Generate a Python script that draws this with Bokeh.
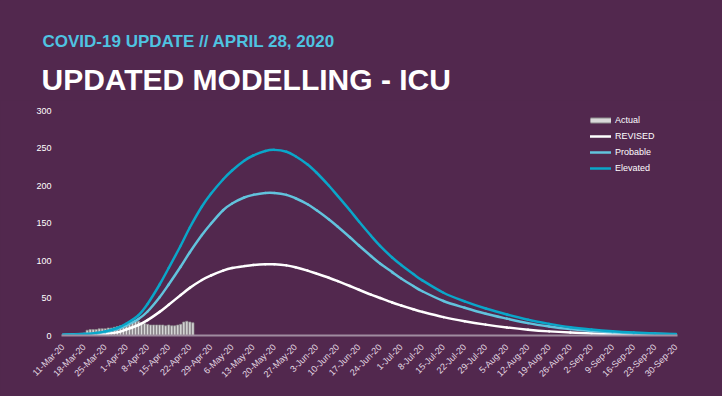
import math
import pandas as pd
from bokeh.plotting import figure
from bokeh.layouts import column
from bokeh.models import Range1d, FixedTicker, Label, Legend, LegendItem
from bokeh.embed import file_html
from bokeh.resources import INLINE

BG = "#52284E"
FONT = "Liberation Sans"
START = pd.Timestamp("2020-03-11")

title_top = "COVID-19 UPDATE // APRIL 28, 2020"
title_main = "UPDATED MODELLING - ICU"

tick_labels = ["11-Mar-20", "18-Mar-20", "25-Mar-20", "1-Apr-20", "8-Apr-20", "15-Apr-20",
               "22-Apr-20", "29-Apr-20", "6-May-20", "13-May-20", "20-May-20", "27-May-20",
               "3-Jun-20", "10-Jun-20", "17-Jun-20", "24-Jun-20", "1-Jul-20", "8-Jul-20",
               "15-Jul-20", "22-Jul-20", "29-Jul-20", "5-Aug-20", "12-Aug-20", "19-Aug-20",
               "26-Aug-20", "2-Sep-20", "9-Sep-20", "16-Sep-20", "23-Sep-20", "30-Sep-20"]
y_ticks = [0, 50, 100, 150, 200, 250, 300]

curve_dates = ["2020-03-11", "2020-03-18", "2020-03-22", "2020-03-25", "2020-03-29", "2020-04-01",
               "2020-04-05", "2020-04-08", "2020-04-12", "2020-04-15", "2020-04-19", "2020-04-22",
               "2020-04-26", "2020-04-29", "2020-05-03", "2020-05-06", "2020-05-10", "2020-05-13",
               "2020-05-17", "2020-05-20", "2020-05-24", "2020-05-27", "2020-05-31", "2020-06-03",
               "2020-06-07", "2020-06-10", "2020-06-14", "2020-06-17", "2020-06-21", "2020-06-24",
               "2020-06-28", "2020-07-01", "2020-07-05", "2020-07-08", "2020-07-15", "2020-07-22",
               "2020-07-29", "2020-08-05", "2020-08-12", "2020-08-19", "2020-08-26", "2020-09-02",
               "2020-09-09", "2020-09-16", "2020-09-23", "2020-09-30"]
revised = [0.5, 1, 1.5, 2.2, 4.2, 8, 14, 20.5, 31.5, 41, 54, 63.5, 74, 80, 86.5, 90, 92.5, 94,
           95, 95, 93.5, 91, 86.5, 82.5, 77, 72.5, 66, 61, 54.5, 50, 44, 40, 35, 31.5, 24.5, 19,
           14.5, 10.8, 7.8, 5.5, 3.9, 2.8, 2.0, 1.4, 1.0, 0.8]
probable = [1, 2, 3, 4.5, 8.5, 13.5, 22, 32, 51, 68, 92, 111, 134, 149, 167, 176, 184, 187.5,
            190, 190, 187.5, 183, 175, 167, 155, 145, 131, 120, 106, 96, 84.5, 76, 66, 59, 46, 37,
            29, 22.5, 16.5, 12, 8.5, 6, 4.3, 3.1, 2.2, 1.5]
elevated = [1, 2, 3.5, 5.5, 10, 16, 27, 42, 68, 90, 120, 144, 172, 189, 208, 220, 233, 240,
            246, 247.5, 245, 239, 228, 217, 200, 186, 167, 152, 133, 119.5, 104, 94, 82, 73.5, 57,
            45.5, 36, 28, 21, 15.5, 11, 8, 5.7, 4, 2.8, 1.9]

actual_first_date = "2020-03-19"
actual = [7, 8, 8, 8, 9, 9, 9, 10, 10, 11, 12, 13, 14, 16, 17, 18, 20, 19, 17, 16,
          15, 14, 14, 14, 14, 14, 13, 14, 13, 13, 14, 15, 18, 19, 18, 17]


def day_index(dates):
    return [int((pd.Timestamp(d) - START).days) for d in dates]


def smooth_segments(xs, ys):
    """Catmull-Rom style smoothing (like a spreadsheet 'smoothed line') as Bezier segments."""
    n = len(xs)
    out = {k: [] for k in ("x0", "y0", "x1", "y1", "cx0", "cy0", "cx1", "cy1")}
    for i in range(n - 1):
        xm, ym = (xs[i - 1], ys[i - 1]) if i > 0 else (xs[i], ys[i])
        xp, yp = (xs[i + 2], ys[i + 2]) if i + 2 < n else (xs[i + 1], ys[i + 1])
        out["x0"].append(xs[i]); out["y0"].append(ys[i])
        out["x1"].append(xs[i + 1]); out["y1"].append(ys[i + 1])
        out["cx0"].append(xs[i] + (xs[i + 1] - xm) / 6.0)
        out["cy0"].append(ys[i] + (ys[i + 1] - ym) / 6.0)
        out["cx1"].append(xs[i + 1] - (xp - xs[i]) / 6.0)
        out["cy1"].append(ys[i + 1] - (yp - ys[i]) / 6.0)
    return out


curve_x = day_index(curve_dates)
actual_x = day_index(pd.date_range(actual_first_date, periods=len(actual), freq="D"))
tick_x = [int((pd.to_datetime(t, format="%d-%b-%y") - START).days) for t in tick_labels]

# ---- header (titles) ----
head = figure(width=722, height=100, x_range=Range1d(0, 722), y_range=Range1d(0, 100),
              output_backend="svg", toolbar_location=None, x_axis_type=None, y_axis_type=None,
              min_border=0, background_fill_color=BG, border_fill_color=BG,
              outline_line_color=None)
head.frame_align = False
head.xgrid.visible = False
head.ygrid.visible = False
head.add_layout(Label(x=42, y=59, text=title_top, text_font=FONT, text_font_size="17px",
                      text_font_style="bold", text_color="#4FC3E1", text_baseline="alphabetic"))
head.add_layout(Label(x=41, y=21, text=title_main, text_font=FONT, text_font_size="30px",
                      text_font_style="bold", text_color="#FFFFFF", text_baseline="alphabetic"))

# ---- chart ----
p = figure(width=722, height=296, x_range=Range1d(-0.5, 203.5), y_range=Range1d(0, 300),
           output_backend="svg", toolbar_location=None,
           min_border_left=61, min_border_right=45, min_border_top=10, min_border_bottom=61,
           background_fill_color=BG, border_fill_color=BG, outline_line_color=None)
p.frame_align = False
p.xgrid.visible = False
p.ygrid.visible = False

p.vbar(x=actual_x, top=actual, width=0.75, fill_color="#D9D9D9", line_color="#8C8C8C",
       line_width=0.7)

series = [("REVISED", revised, "#FFFFFF"), ("Probable", probable, "#62C3DD"),
          ("Elevated", elevated, "#0AA6C9")]
renderers = {}
for name, vals, col in series:
    seg = smooth_segments(curve_x, vals)
    renderers[name] = p.bezier(x0=seg["x0"], y0=seg["y0"], x1=seg["x1"], y1=seg["y1"],
                               cx0=seg["cx0"], cy0=seg["cy0"], cx1=seg["cx1"], cy1=seg["cy1"],
                               line_color=col, line_width=2.5, line_cap="round")

nan = float("nan")
d1 = p.line([nan], [nan], line_color="#8C8C8C", line_width=6)
d2 = p.line([nan], [nan], line_color="#D9D9D9", line_width=4)

legend = Legend(items=[LegendItem(label="Actual", renderers=[d1, d2]),
                       LegendItem(label="REVISED", renderers=[renderers["REVISED"]]),
                       LegendItem(label="Probable", renderers=[renderers["Probable"]]),
                       LegendItem(label="Elevated", renderers=[renderers["Elevated"]])],
                location=(529, 161), glyph_width=21, glyph_height=12, label_height=12,
                spacing=4, padding=0, margin=0, label_standoff=4,
                label_text_color="#FFFFFF", label_text_font=FONT, label_text_font_size="9px",
                border_line_color=None, background_fill_alpha=0)
p.add_layout(legend)

xa = p.xaxis[0]
xa.ticker = FixedTicker(ticks=tick_x)
xa.major_label_overrides = {t: l for t, l in zip(tick_x, tick_labels)}
xa.major_label_orientation = math.pi / 4
xa.axis_line_color = "#A08CA0"
xa.axis_line_width = 2
xa.major_tick_line_color = None
xa.minor_tick_line_color = None
xa.major_label_text_color = "#E2D8E2"
xa.major_label_text_font = FONT
xa.major_label_text_font_size = "9px"
xa.major_label_standoff = 4

ya = p.yaxis[0]
ya.ticker = FixedTicker(ticks=y_ticks)
ya.axis_line_color = None
ya.major_tick_line_color = None
ya.minor_tick_line_color = None
ya.major_label_text_color = "#FFFFFF"
ya.major_label_text_font = FONT
ya.major_label_text_font_size = "9px"
ya.major_label_standoff = 4

layout = column(head, p, spacing=0)
html = file_html(layout, INLINE)
html = html.replace("</head>",
                    "<style>html,body{background:#52284E;margin:0;overflow:hidden;}</style></head>", 1)
open("out.html", "w").write(html)
